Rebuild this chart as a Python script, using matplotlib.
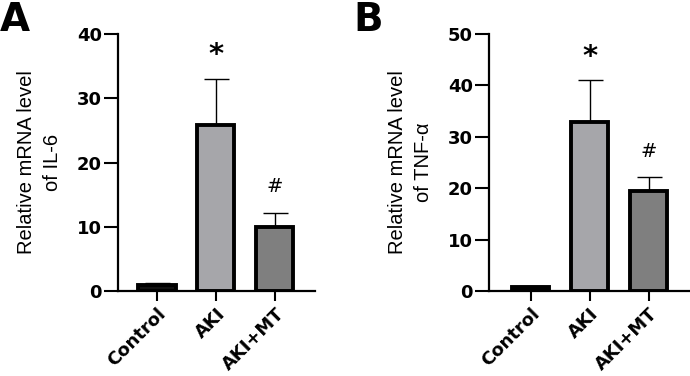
import matplotlib
matplotlib.use("Agg")
import matplotlib.pyplot as plt
import numpy as np

groups = ['Control', 'AKI', 'AKI+MT']
il6_mean = [1.0, 25.8, 9.9]
il6_err = [0.3, 7.2, 2.3]
tnf_mean = [0.8, 32.9, 19.5]
tnf_err = [0.2, 8.1, 2.6]
marks = ['', '*', '#']
il6_ticks = [0, 10, 20, 30, 40]
tnf_ticks = [0, 10, 20, 30, 40, 50]

bar_colors = ['#111111', '#a6a6aa', '#7f7f7f']


def draw_panel(ax, means, errs, ticks, ylabel, xlim, label_x):
    x = np.arange(len(groups))
    ax.errorbar(x, means, yerr=[np.zeros(len(errs)), errs], fmt='none',
                ecolor='black', elinewidth=1.0, capsize=9, capthick=1.0, zorder=1)
    ax.bar(x, means, width=0.63, color=bar_colors, edgecolor='black',
           linewidth=2.8, zorder=2)
    for xi, m, e, s in zip(x, means, errs, marks):
        if s == '*':
            ax.annotate(s, (xi, m + e), xytext=(0, 17), textcoords='offset points',
                        ha='center', va='center', fontsize=21, fontweight='bold')
        elif s:
            ax.annotate(s, (xi, m + e), xytext=(0, 19), textcoords='offset points',
                        ha='center', va='center', fontsize=14)

    ax.set_xlim(*xlim)
    ax.set_ylim(0, ticks[-1])
    ax.set_yticks(ticks)
    ax.set_xticks(x)
    ax.set_xticklabels(groups, rotation=45, ha='right', va='top',
                       rotation_mode='anchor')
    for lab in ax.get_xticklabels() + ax.get_yticklabels():
        lab.set_fontweight('bold')
        lab.set_fontsize(13)
    ax.tick_params(axis='y', length=10, width=1.5, pad=1.5)
    ax.tick_params(axis='x', length=7, width=1.5, pad=3)
    for side in ['top', 'right']:
        ax.spines[side].set_visible(False)
    for side in ['left', 'bottom']:
        ax.spines[side].set_linewidth(1.6)
    ax.set_ylabel(ylabel, family='Liberation Sans', fontsize=14.5, linespacing=1.45)
    ax.yaxis.set_label_coords(label_x, 0.5)


fig = plt.figure(figsize=(6.9, 3.76), dpi=100)
W, H = 690, 376
ax1 = fig.add_axes([118 / W, 1 - 291 / H, 197 / W, 257 / H])
ax2 = fig.add_axes([489 / W, 1 - 291 / H, 201 / W, 257 / H])

draw_panel(ax1, il6_mean, il6_err, il6_ticks,
           'Relative mRNA level\nof IL-6', (-0.66, 2.68), -56 / 197)
draw_panel(ax2, tnf_mean, tnf_err, tnf_ticks,
           'Relative mRNA level\nof TNF-α', (-0.71, 2.70), -56 / 201)

fig.text(0 / W, 1 - 1 / H, 'A', ha='left', va='top', fontsize=28, fontweight='bold')
fig.text(353 / W, 1 - 1 / H, 'B', ha='left', va='top', fontsize=28, fontweight='bold')

fig.savefig('out.png', dpi=100)
